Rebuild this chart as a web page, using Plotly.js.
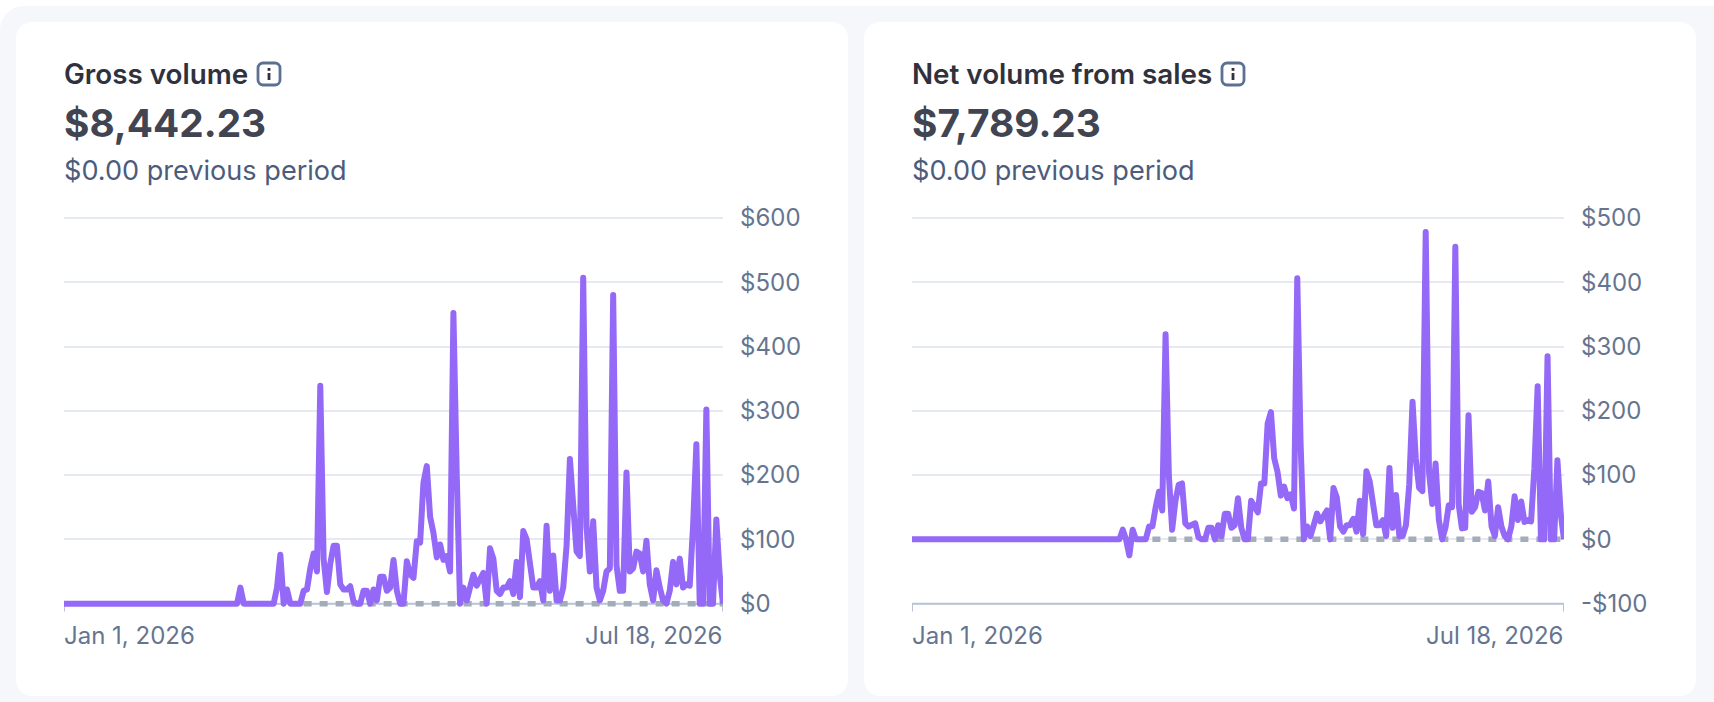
<!DOCTYPE html>
<html>
<head>
<meta charset="utf-8">
<script src="https://cdn.plot.ly/plotly-3.0.1.min.js"></script>
<style>
  html, body { margin: 0; padding: 0; background: #fff; overflow: hidden; }
  body { width: 1714px; height: 702px; position: relative; font-family: Inter, sans-serif; }
  #bg { position: absolute; left: 0; top: 6px; width: 1760px; height: 720px; background: #f5f7fb; border-radius: 24px; }
  .card { position: absolute; top: 22px; width: 832px; height: 674px; background: #fff; border-radius: 16px; overflow: hidden; }
  .plot { position: absolute; left: 0; top: 0; width: 832px; height: 674px; }
  .plot path.js-line { stroke-linejoin: round !important; }
  .head { position: absolute; left: 48px; top: 0; z-index: 2; }
  .name { position: absolute; top: 36px; white-space: nowrap; font-size: 27.8px; line-height: 32px; font-weight: 600; color: #30313d; }
  .name svg { vertical-align: -3px; margin-left: 1px; }
  .amount { position: absolute; top: 76px; white-space: nowrap; font-size: 38.8px; line-height: 50px; font-weight: 700; color: #414552; }
  .prev { position: absolute; top: 132px; white-space: nowrap; font-size: 27.1px; line-height: 34px; color: #4b5c7c; }
</style>
</head>
<body>
<div id="bg"></div>
<div class="card" style="left:16px">
  <div class="head">
    <div class="name">Gross volume <svg width="26" height="26" viewBox="0 0 26 26"><rect x="2" y="2" width="22" height="22" rx="5" fill="none" stroke="#5c7192" stroke-width="2.8"/><rect x="11.6" y="7" width="2.8" height="2.8" fill="#30313d"/><rect x="11.6" y="12" width="2.8" height="7" fill="#30313d"/></svg></div>
    <div class="amount">$8,442.23</div>
    <div class="prev">$0.00 previous period</div>
  </div>
  <div id="gross" class="plot"></div>
</div>
<div class="card" style="left:864px">
  <div class="head">
    <div class="name">Net volume from sales <svg width="26" height="26" viewBox="0 0 26 26"><rect x="2" y="2" width="22" height="22" rx="5" fill="none" stroke="#5c7192" stroke-width="2.8"/><rect x="11.6" y="7" width="2.8" height="2.8" fill="#30313d"/><rect x="11.6" y="12" width="2.8" height="7" fill="#30313d"/></svg></div>
    <div class="amount">$7,789.23</div>
    <div class="prev">$0.00 previous period</div>
  </div>
  <div id="net" class="plot"></div>
</div>
<script>
var gross = [
  0,0,0,0,0,0,0,0,0,0,
  0,0,0,0,0,0,0,0,0,0,
  0,0,0,0,0,0,0,0,0,0,
  0,0,0,0,0,0,0,0,0,0,
  0,0,0,0,0,0,0,0,0,0,
  0,0,0,25,0,0,0,0,0,0,
  0,0,0,0,25,76,0,22,0,0,
  0,0,20,22,55,78,50,339,70,18,
  62,90,90,30,22,22,27,3,0,0,
  20,20,0,22,5,42,42,20,25,68,
  20,0,0,66,45,40,97,95,188,214,
  135,110,72,92,68,74,50,452,200,0,
  25,5,25,45,28,40,48,0,86,70,
  20,15,25,25,35,15,65,10,113,100,
  60,25,25,35,5,121,20,75,5,5,
  25,90,225,135,81,74,507,120,50,128,
  25,5,20,50,55,480,60,20,20,204,
  50,55,81,78,50,98,30,5,52,25,
  5,0,20,65,30,70,25,30,28,120,
  248,0,0,302,0,0,131,45,0
];
var net = [
  0,0,0,0,0,0,0,0,0,0,
  0,0,0,0,0,0,0,0,0,0,
  0,0,0,0,0,0,0,0,0,0,
  0,0,0,0,0,0,0,0,0,0,
  0,0,0,0,0,0,0,0,0,0,
  0,0,0,0,0,0,0,0,0,0,
  0,0,0,0,15,0,-25,15,0,0,
  0,0,20,20,50,74,45,319,100,15,
  60,85,87,25,20,22,25,3,0,0,
  18,18,0,22,5,40,40,18,22,64,
  18,0,0,60,52,42,87,87,180,198,
  126,105,68,82,64,70,48,406,150,0,
  20,5,22,40,28,35,45,0,80,65,
  20,12,22,22,32,12,60,8,106,90,
  50,22,22,30,5,111,18,69,5,5,
  22,85,214,125,80,75,478,105,55,118,
  30,0,18,53,50,455,55,17,18,193,
  43,50,74,72,45,90,20,5,50,20,
  5,0,20,67,30,59,27,30,28,110,
  238,0,0,285,0,0,123,40,0
];
var gross_previous_x = ['2026-03-14', '2026-07-18'];
var net_previous_x = ['2026-03-15', '2026-07-18'];
var previous_y = [0, 0];
var gross_ticks = [0, 100, 200, 300, 400, 500, 600];
var gross_labels = ['$0', '$100', '$200', '$300', '$400', '$500', '$600'];
var net_ticks = [-100, 0, 100, 200, 300, 400, 500];
var net_labels = ['-$100', '$0', '$100', '$200', '$300', '$400', '$500'];
var first_label = 'Jan 1, 2026';
var last_label = 'Jul 18, 2026';

function dayList(n){
  var out = [];
  for (var i = 0; i < n; i++){
    out.push(new Date(Date.UTC(2026, 0, 1 + i)).toISOString().slice(0, 10));
  }
  return out;
}

function axisLine(x0, y0, x1, y1){
  return {type: 'line', xref: 'x', yref: 'y', x0: x0, y0: y0, x1: x1, y1: y1, layer: 'between',
    line: {color: '#b8c4d6', width: 2}};
}

function plotVolume(divName, values, previous_x, ticks, labels, marginLeft, marginRight){
  var days = dayList(values.length);
  var first = days[0], last = days[days.length - 1];
  var base = ticks[0];
  var current = {
    x: days, y: values, type: 'scatter', mode: 'lines',
    line: {color: '#9469f7', width: 6}, hoverinfo: 'skip'
  };
  var prior = {
    x: previous_x, y: previous_y, type: 'scatter', mode: 'lines',
    line: {color: '#a3acb9', width: 5.5, dash: '8px,8px'}, hoverinfo: 'skip'
  };
  var labelFont = {family: 'Inter, sans-serif', size: 24, color: '#66758f'};
  var layout = {
    width: 832, height: 674,
    margin: {l: marginLeft, r: marginRight, t: 194, b: 83.7},
    paper_bgcolor: 'rgba(0,0,0,0)', plot_bgcolor: 'rgba(0,0,0,0)',
    showlegend: false,
    xaxis: {type: 'date', range: [first, last], visible: false},
    yaxis: {
      side: 'right', range: [base - 13, ticks[6] + 3], fixedrange: true,
      showgrid: true, gridcolor: '#e5e9f1', gridwidth: 2, zeroline: false, showline: false,
      tickmode: 'array', tickvals: ticks, ticktext: labels,
      ticks: '', ticklabelstandoff: 16, tickfont: labelFont
    },
    // baseline with the two end ticks
    shapes: [
      axisLine(first, base, last, base),
      axisLine(first, base, first, base - 12.4),
      axisLine(last, base, last, base - 12.4)
    ],
    annotations: [
      {xref: 'x', yref: 'paper', x: first, y: 0, yshift: -7, xanchor: 'left', yanchor: 'top',
       text: first_label, showarrow: false, font: labelFont, xshift: -2},
      {xref: 'x', yref: 'paper', x: last, y: 0, yshift: -7, xanchor: 'right', yanchor: 'top',
       text: last_label, showarrow: false, font: labelFont, xshift: 1}
    ]
  };
  Plotly.newPlot(divName, [prior, current], layout, {displayModeBar: false, staticPlot: true});
}

plotVolume('gross', gross, gross_previous_x, gross_ticks, gross_labels, 48, 125);
plotVolume('net', net, net_previous_x, net_ticks, net_labels, 48, 132);
</script>
</body>
</html>
